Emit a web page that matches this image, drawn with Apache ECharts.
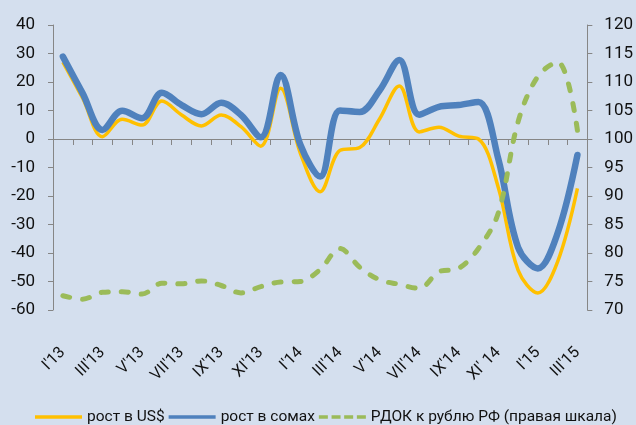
<!DOCTYPE html>
<html lang="ru">
<head>
  <meta charset="UTF-8">
  <title>рост</title>
  <script src="https://cdn.jsdelivr.net/npm/echarts@6/dist/echarts.min.js"></script>
</head>
<body style="margin:0">
<div id="chart" style="width: 636px;height: 425px"></div>
</body>
<script>

  var months = ["I'13", "II'13", "III'13", "IV'13", "V'13", "VI'13", "VII'13", "VIII'13", "IX'13", "X'13", "XI'13", "XII'13",
    "I'14", "II'14", "III'14", "IV'14", "V'14", "VI'14", "VII'14", "VIII'14", "IX'14", "X'14", "XI' 14", "XII'14",
    "I'15", "II'15", "III'15"];

  // рост в US$
  var usd = [27, 14.3, 0.8, 6.9, 4.9, 13.3, 8.4, 4.6, 8.4, 4.3, -2.5, 17.8,
    -5, -18.5, -4, -3, 7, 18.6, 2.5, 4.1, 1, 0, -17, -46, -54, -43, -17.3];
  // рост в сомах
  var som = [28.9, 16, 3.2, 9.9, 7.3, 16.2, 11.9, 8.7, 12.7, 8.4, 0.6, 22.5,
    -2, -13.2, 10, 9.5, 17, 27.7, 8.5, 11.3, 11.9, 13, -7, -38, -45.4, -33, -5.6];
  // РДОК к рублю РФ (правая шкала)
  var rdok = [72.5, 71.9, 73.1, 73.2, 72.8, 74.7, 74.6, 75.1, 74.3, 73, 74.1, 74.9,
    75, 77.1, 80.8, 77.5, 75.3, 74.5, 73.8, 76.7, 77.3, 80.8, 87, 103, 111, 113.5, 101.5];

  var font = 'Roboto, sans-serif';
  var axisGray = '#868686';

  // legend icons: solid bars and a dashed one
  var solidIcon = 'path://M0,0H47V3.5H0Z';
  var dashIcon = 'path://M0,0H9V3.5H0Z M12.7,0H21.7V3.5H12.7Z M25.3,0H34.3V3.5H25.3Z M38,0H47V3.5H38Z';

  var chart = echarts.init(document.getElementById('chart'));

  var option = {
    backgroundColor: '#d4dfee',
    animation: false,
    grid: {left: 53, right: 48, top: 25, bottom: 115},
    legend: {
      top: 404,
      left: 30,
      itemWidth: 47,
      itemHeight: 16,
      itemGap: 4,
      textStyle: {fontFamily: font, fontSize: 15.5, color: '#111'},
      data: [
        {name: 'рост в US$', icon: solidIcon},
        {name: 'рост в сомах', icon: solidIcon},
        {name: 'РДОК к рублю РФ (правая шкала)', icon: dashIcon}
      ]
    },
    xAxis: [
      {
        type: 'category',
        data: months,
        axisLine: {onZero: true, lineStyle: {color: axisGray, width: 1}},
        axisTick: {show: true, interval: 0, length: 6, lineStyle: {color: axisGray}},
        axisLabel: {show: false}
      },
      {
        type: 'category',
        data: months,
        position: 'bottom',
        axisLine: {show: false, onZero: false},
        axisTick: {show: false},
        axisLabel: {
          interval: 1,
          rotate: 45,
          margin: 40,
          fontFamily: font,
          fontSize: 16,
          color: '#111'
        }
      }
    ],
    yAxis: [
      {
        type: 'value',
        min: -60,
        max: 40,
        interval: 10,
        splitLine: {show: false},
        axisLine: {show: true, lineStyle: {color: axisGray}},
        axisTick: {show: true, length: 5, lineStyle: {color: axisGray}},
        axisLabel: {margin: 18, fontFamily: font, fontSize: 17, color: '#111'}
      },
      {
        type: 'value',
        min: 70,
        max: 120,
        interval: 5,
        splitLine: {show: false},
        axisLine: {show: true, lineStyle: {color: axisGray}},
        axisTick: {show: true, length: 5, lineStyle: {color: axisGray}},
        axisLabel: {margin: 17, fontFamily: font, fontSize: 17, color: '#111'}
      }
    ],
    series: [
      {
        name: 'рост в US$',
        type: 'line',
        data: usd,
        smooth: 0.35,
        symbol: 'none',
        z: 3,
        color: '#ffc000',
        lineStyle: {color: '#ffc000', width: 3.5}
      },
      {
        name: 'рост в сомах',
        type: 'line',
        data: som,
        smooth: 0.35,
        symbol: 'none',
        z: 4,
        color: '#4f81bd',
        lineStyle: {color: '#4f81bd', width: 6.5, cap: 'round'}
      },
      {
        name: 'РДОК к рублю РФ (правая шкала)',
        type: 'line',
        yAxisIndex: 1,
        data: rdok,
        smooth: 0.35,
        symbol: 'none',
        z: 5,
        color: '#9bbb59',
        lineStyle: {color: '#9bbb59', width: 5, type: [7, 13], cap: 'round'}
      }
    ]
  };

  chart.setOption(option);

</script>
</html>
